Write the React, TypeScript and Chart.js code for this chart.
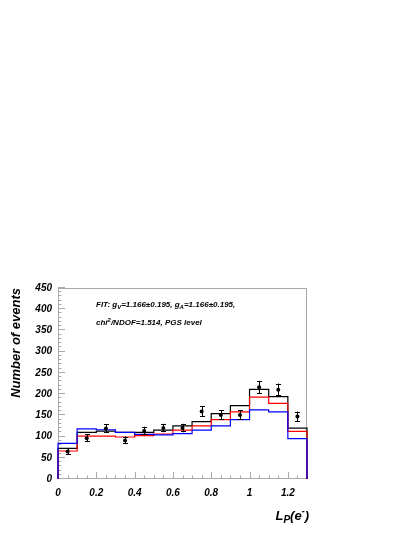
import React, { useEffect, useRef } from "react";
import { Chart, registerables } from "chart.js";

Chart.register(...registerables);

// ---- data ----
const binEdges = [0, 0.1, 0.2, 0.3, 0.4, 0.5, 0.6, 0.7, 0.8, 0.9, 1.0, 1.1, 1.2, 1.3];
const binCenters = [0.05, 0.15, 0.25, 0.35, 0.45, 0.55, 0.65, 0.75, 0.85, 0.95, 1.05, 1.15, 1.25];
const fitBlack = [72, 110, 113, 110, 110, 115, 125, 135, 154, 173, 211, 194, 120];
const fitRed = [66, 101, 101, 99, 102, 106, 115, 125, 140, 158, 193, 178, 112];
const fitBlue = [84, 118, 116, 110, 105, 104, 107, 115, 125, 140, 163, 158, 95];
const dataCounts = [65, 96, 119, 91, 113, 120, 120, 159, 151, 151, 216, 210, 147];
const dataErrors = [8, 9, 10, 9, 10, 10, 10, 12, 11, 11, 15, 15, 12];
const yTickValues = [0, 50, 100, 150, 200, 250, 300, 350, 400, 450];
const yTickLabels = ["0", "50", "100", "150", "200", "250", "300", "350", "400", "450"];
const xTickValues = [0, 0.2, 0.4, 0.6, 0.8, 1.0, 1.2];
const xTickLabels = ["0", "0.2", "0.4", "0.6", "0.8", "1", "1.2"];

const font = (size: number) => `italic bold ${size}px "Liberation Sans", Arial, sans-serif`;

function histPoints(vals: number[]) {
  const pts: { x: number; y: number }[] = [{ x: binEdges[0], y: 0 }];
  vals.forEach((v, i) => pts.push({ x: binEdges[i], y: v }));
  pts.push({ x: binEdges[vals.length], y: vals[vals.length - 1] });
  pts.push({ x: binEdges[vals.length], y: 0 });
  return pts;
}

const rootStyle = {
  id: "rootStyle",
  beforeDatasetsDraw(chart: any) {
    const { ctx, chartArea: a, scales } = chart;
    const x = scales.x, y = scales.y;
    ctx.save();
    ctx.strokeStyle = "#a8a8a8";
    ctx.lineWidth = 1;
    ctx.strokeRect(Math.round(a.left) + 0.5, Math.round(a.top) + 0.5, Math.round(a.right - a.left) - 1, Math.round(a.bottom - a.top) - 1);
    ctx.beginPath();
    for (let v = 0; v <= 450; v += 10) {
      const py = Math.round(y.getPixelForValue(v)) - 0.5;
      const len = v % 50 === 0 ? 7 : 3.5;
      ctx.moveTo(a.left, py);
      ctx.lineTo(a.left + len, py);
    }
    for (let k = 0; k <= 26; k++) {
      const v = k * 0.05;
      const px = Math.round(x.getPixelForValue(v)) + 0.5;
      const len = k % 4 === 0 ? 7 : 3.5;
      ctx.moveTo(px, a.bottom);
      ctx.lineTo(px, a.bottom - len);
    }
    ctx.stroke();
    ctx.restore();
  },
  afterDatasetsDraw(chart: any) {
    const { ctx, scales } = chart;
    const x = scales.x, y = scales.y;
    ctx.save();
    ctx.strokeStyle = "#000";
    ctx.lineWidth = 1;
    ctx.beginPath();
    dataCounts.forEach((v, i) => {
      const px = Math.round(x.getPixelForValue(binCenters[i])) + 0.5;
      const top = y.getPixelForValue(v + dataErrors[i]);
      const bot = y.getPixelForValue(v - dataErrors[i]);
      ctx.moveTo(px, top);
      ctx.lineTo(px, bot);
      ctx.moveTo(px - 2.5, Math.round(top) + 0.5);
      ctx.lineTo(px + 2.5, Math.round(top) + 0.5);
      ctx.moveTo(px - 2.5, Math.round(bot) - 0.5);
      ctx.lineTo(px + 2.5, Math.round(bot) - 0.5);
    });
    ctx.stroke();
    ctx.restore();
  },
  afterDraw(chart: any) {
    const { ctx, chartArea: a, scales } = chart;
    const x = scales.x, y = scales.y;
    ctx.save();
    ctx.fillStyle = "#000";
    // y tick labels
    ctx.font = font(10);
    ctx.textAlign = "right";
    ctx.textBaseline = "middle";
    yTickValues.forEach((v, i) => ctx.fillText(yTickLabels[i], a.left - 6, y.getPixelForValue(v)));
    // x tick labels
    ctx.textAlign = "center";
    xTickValues.forEach((v, i) => ctx.fillText(xTickLabels[i], x.getPixelForValue(v), a.bottom + 14));
    // y title
    ctx.save();
    ctx.translate(16, a.top);
    ctx.rotate(-Math.PI / 2);
    ctx.font = font(13);
    ctx.textAlign = "right";
    ctx.textBaseline = "middle";
    ctx.fillText("Number of events", 0, 0);
    ctx.restore();
    const drawRuns = (runs: { t: string; s: number; dy: number }[], xStart: number, yBase: number) => {
      let cx = xStart;
      ctx.textAlign = "left";
      ctx.textBaseline = "alphabetic";
      runs.forEach((r) => {
        ctx.font = font(r.s);
        ctx.fillText(r.t, cx, yBase + r.dy);
        cx += ctx.measureText(r.t).width;
      });
      return cx;
    };
    const measureRuns = (runs: { t: string; s: number; dy: number }[]) => {
      let w = 0;
      runs.forEach((r) => { ctx.font = font(r.s); w += ctx.measureText(r.t).width; });
      return w;
    };
    // x title L_P(e^-)
    const xTitle = [
      { t: "L", s: 13, dy: 0 },
      { t: "P", s: 10, dy: 3 },
      { t: "(e", s: 13, dy: 0 },
      { t: "-", s: 9, dy: -6 },
      { t: ")", s: 13, dy: 0 },
    ];
    const w = measureRuns(xTitle);
    drawRuns(xTitle, a.right + 2 - w, 520);
    // FIT text
    drawRuns([
      { t: "FIT: g", s: 8, dy: 0 },
      { t: "V", s: 6, dy: 2 },
      { t: "=1.166\u00b10.195, g", s: 8, dy: 0 },
      { t: "A", s: 6, dy: 2 },
      { t: "=1.166\u00b10.195,", s: 8, dy: 0 },
    ], 96, 307);
    drawRuns([
      { t: "chi", s: 8, dy: 0 },
      { t: "2", s: 6, dy: -3 },
      { t: "/NDOF=1.514, PGS level", s: 8, dy: 0 },
    ], 96, 325);
    ctx.restore();
  },
};

export default function App() {
  const ref = useRef<HTMLCanvasElement>(null);
  useEffect(() => {
    if (!ref.current) return;
    const chart = new Chart(ref.current, {
      type: "scatter",
      data: {
        datasets: [
          { label: "data", data: binCenters.map((c, i) => ({ x: c, y: dataCounts[i] })), showLine: false, pointStyle: "circle", pointRadius: 2, backgroundColor: "#000", borderColor: "#000", borderWidth: 0, order: 0, clip: false } as any,
          { label: "blue", data: histPoints(fitBlue), showLine: true, stepped: "before", borderColor: "#0000ff", borderWidth: 1.2, pointRadius: 0, order: 1, clip: false } as any,
          { label: "red", data: histPoints(fitRed), showLine: true, stepped: "before", borderColor: "#ff0000", borderWidth: 1.2, pointRadius: 0, order: 2, clip: false } as any,
          { label: "black", data: histPoints(fitBlack), showLine: true, stepped: "before", borderColor: "#000000", borderWidth: 1.2, pointRadius: 0, order: 3, clip: false } as any,
        ],
      },
      options: {
        animation: false,
        responsive: false,
        devicePixelRatio: 1,
        layout: { padding: { left: 58, right: 108, top: 288, bottom: 58 } },
        plugins: { legend: { display: false }, tooltip: { enabled: false } },
        events: [],
        scales: {
          x: { type: "linear", min: 0, max: 1.3, display: false },
          y: { type: "linear", min: 0, max: 450, display: false },
        },
      },
      plugins: [rootStyle],
    });
    return () => chart.destroy();
  }, []);
  return (
    <div style={{ position: "fixed", left: 0, top: 0, width: 415, height: 537, background: "#fff" }}>
      <canvas ref={ref} width={415} height={537} style={{ width: 415, height: 537, display: "block" }} />
    </div>
  );
}
